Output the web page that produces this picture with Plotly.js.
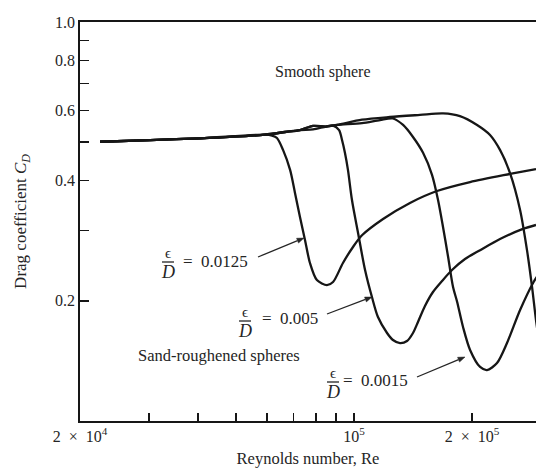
<!DOCTYPE html>
<html>
<head>
<meta charset="utf-8">
<script src="https://cdn.plot.ly/plotly-3.0.1.min.js"></script>
<style>html,body{margin:0;padding:0;background:#fff;}#chart{width:536px;height:468px;}</style>
</head>
<body>
<div id="chart"></div>
<script>
// ---- data (Re, C_D) ----
// eps/D = 0.0125
const reA = [2.25e4, 3.02e4, 4.05e4, 5.93e4, 6.18e4, 6.36e4, 6.59e4, 6.87e4, 7.07e4, 7.28e4, 7.50e4, 7.72e4, 8.04e4, 8.53e4, 8.84e4, 9.37e4, 9.94e4, 1.048e5, 1.186e5, 1.389e5, 1.628e5, 1.977e5, 2.5e5, 2.912e5];
const cdA = [0.501, 0.506, 0.511, 0.522, 0.519, 0.512, 0.478, 0.426, 0.373, 0.3246, 0.284, 0.2489, 0.2256, 0.219, 0.223, 0.2489, 0.273, 0.292, 0.3208, 0.352, 0.377, 0.397, 0.416, 0.428];
// eps/D = 0.005
const reB = [2.25e4, 3.02e4, 4.05e4, 5.93e4, 6.67e4, 7.28e4, 7.86e4, 8.48e4, 8.84e4, 9.16e4, 9.32e4, 9.48e4, 9.65e4, 9.88e4, 1.024e5, 1.067e5, 1.111e5, 1.151e5, 1.214e5, 1.257e5, 1.310e5, 1.365e5, 1.414e5, 1.456e5, 1.517e5, 1.590e5, 1.677e5, 1.778e5, 1.919e5, 2.097e5, 2.357e5, 2.698e5, 2.912e5];
const cdB = [0.501, 0.506, 0.511, 0.522, 0.530, 0.536, 0.538, 0.547, 0.550, 0.536, 0.506, 0.470, 0.426, 0.358, 0.296, 0.239, 0.2045, 0.1822, 0.1662, 0.1596, 0.1568, 0.1587, 0.1662, 0.1771, 0.1942, 0.2105, 0.2243, 0.239, 0.2547, 0.268, 0.2858, 0.303, 0.310];
// eps/D = 0.0015
const reC = [2.25e4, 3.02e4, 4.05e4, 5.93e4, 6.67e4, 7.28e4, 7.86e4, 8.48e4, 9.05e4, 1.048e5, 1.165e5, 1.257e5, 1.334e5, 1.414e5, 1.500e5, 1.581e5, 1.638e5, 1.687e5, 1.738e5, 1.789e5, 1.832e5, 1.897e5, 1.977e5, 2.097e5, 2.184e5, 2.316e5, 2.456e5, 2.652e5, 2.862e5, 2.982e5];
const cdC = [0.501, 0.506, 0.511, 0.522, 0.530, 0.536, 0.549, 0.547, 0.552, 0.558, 0.568, 0.573, 0.552, 0.515, 0.470, 0.414, 0.358, 0.306, 0.2576, 0.2167, 0.199, 0.172, 0.1507, 0.1366, 0.1342, 0.1397, 0.1568, 0.1897, 0.2218, 0.236];
// smooth sphere
const reS = [2.25e4, 3.02e4, 4.05e4, 5.93e4, 6.67e4, 7.28e4, 7.86e4, 8.48e4, 9.05e4, 1.048e5, 1.235e5, 1.473e5, 1.687e5, 1.863e5, 2.060e5, 2.223e5, 2.357e5, 2.5e5, 2.652e5, 2.762e5, 2.845e5, 2.912e5, 3.0e5];
const cdS = [0.501, 0.506, 0.511, 0.522, 0.530, 0.536, 0.549, 0.547, 0.552, 0.569, 0.578, 0.585, 0.590, 0.581, 0.552, 0.521, 0.478, 0.418, 0.338, 0.268, 0.2168, 0.179, 0.1463];

const NB = '\u00a0';
const xMajorVals = [2e4, 1e5, 2e5];
const xMajorText = ['2' + NB + NB + '×' + NB + NB + '10<sup>4</sup>', '10<sup>5</sup>', '2' + NB + NB + '×' + NB + NB + '10<sup>5</sup>'];
const xMinorVals = [3e4, 4e4, 5e4, 6e4, 7e4, 8e4, 9e4, 3e5];
const yMajorVals = [0.2, 0.4, 0.6, 0.8, 1.0];
const yMajorText = ['0.2', '0.4', '0.6', '0.8', '1.0'];
const yMinorVals = [0.3, 0.5, 0.7, 0.9];

const FONT = 'Liberation Serif, DejaVu Serif, Times New Roman, serif';
const INK = '#161616';
const TXT = '#252525';

function curve(x, y) {
  return {x: x, y: y, type: 'scatter', mode: 'lines', hoverinfo: 'skip',
    line: {color: INK, width: 2.3, shape: 'spline', smoothing: 0.8}, showlegend: false};
}
const traces = [curve(reS, cdS), curve(reC, cdC), curve(reB, cdB), curve(reA, cdA)];

// layout helpers (pixel -> paper) for annotation placement
const L = 80, T = 22, W = 456, H = 399;
const px = v => (v - L) / W;
const py = v => (T + H - v) / H;

function txt(text, x, y, xanchor, size) {
  return {text: text, x: px(x), y: py(y), xref: 'paper', yref: 'paper', showarrow: false,
    xanchor: xanchor || 'center', yanchor: 'middle', font: {family: FONT, size: size || 16, color: TXT}};
}
function frac(cx, barY) {
  return [txt('ϵ', cx, barY - 9, 'center', 15), txt('<i>D</i>', cx, barY + 10, 'center', 18)];
}
function bar(cx, barY) {
  return {type: 'line', xref: 'paper', yref: 'paper', x0: px(cx - 6), x1: px(cx + 6), y0: py(barY), y1: py(barY),
    line: {color: TXT, width: 1.3}};
}
function leader(tx, ty, hx, hy) {
  const dx = hx - tx, dy = hy - ty, len = Math.hypot(dx, dy);
  const ux = dx / len, uy = dy / len;
  const bx = hx - ux * 7, by = hy - uy * 7;
  const p1 = [bx - uy * 2.6, by + ux * 2.6], p2 = [bx + uy * 2.6, by - ux * 2.6];
  return [
    {type: 'line', xref: 'paper', yref: 'paper', x0: px(tx), y0: py(ty), x1: px(bx), y1: py(by),
      line: {color: TXT, width: 1.3}},
    {type: 'path', xref: 'paper', yref: 'paper',
      path: 'M' + px(hx) + ',' + py(hy) + ' L' + px(p1[0]) + ',' + py(p1[1]) + ' L' + px(p2[0]) + ',' + py(p2[1]) + ' Z',
      fillcolor: TXT, line: {color: TXT, width: 0.5}}
  ];
}

const annotations = [
  txt('Smooth sphere', 323, 72, 'center', 16),
  txt('Sand-roughened spheres', 219, 355, 'center', 16.5),
  ...frac(168, 262), txt('=' + NB + NB + '0.0125', 181, 261, 'left', 17),
  ...frac(245, 321), txt('=' + NB + NB + '0.005', 260, 318, 'left', 17),
  ...frac(333, 382), txt('=' + NB + NB + '0.0015', 341, 380, 'left', 17)
];
const shapes = [bar(168, 262), bar(245, 321), bar(333, 382),
  ...leader(258, 257, 304, 238),
  ...leader(327, 314, 372, 297),
  ...leader(417, 377, 465, 357)];

const minorY = {tickmode: 'array', tickvals: yMinorVals, ticks: 'inside', ticklen: 9, tickwidth: 1.3, tickcolor: INK, showgrid: false};
const minorX = {tickmode: 'array', tickvals: xMinorVals, ticks: 'inside', ticklen: 8, tickwidth: 1.3, tickcolor: INK, showgrid: false};

const layout = {
  width: 536, height: 468, autosize: false,
  margin: {l: L, r: 0, t: T, b: 468 - T - H, pad: 0},
  paper_bgcolor: '#ffffff', plot_bgcolor: '#ffffff',
  font: {family: FONT, color: TXT, size: 16},
  showlegend: false,
  xaxis: {
    type: 'log', range: [Math.log10(2e4), Math.log10(2.912e5)],
    tickmode: 'array', tickvals: xMajorVals, ticktext: xMajorText,
    ticks: 'inside', ticklen: 8, tickwidth: 1.3, tickcolor: INK,
    minor: minorX,
    showline: true, linecolor: INK, linewidth: 1.8, mirror: true,
    showgrid: false, zeroline: false,
    tickfont: {family: FONT, size: 16, color: TXT},
    title: {text: 'Reynolds number, Re', font: {family: FONT, size: 16.5, color: TXT}, standoff: 12}
  },
  yaxis: {
    type: 'log', range: [-1, 0],
    tickmode: 'array', tickvals: yMajorVals, ticktext: yMajorText,
    ticks: 'inside', ticklen: 9, tickwidth: 1.3, tickcolor: INK,
    minor: minorY,
    showline: true, linecolor: INK, linewidth: 1.8, mirror: false,
    showgrid: false, zeroline: false,
    tickfont: {family: FONT, size: 16, color: TXT},
    title: {text: 'Drag coefficient <i>C<sub>D</sub></i>', font: {family: FONT, size: 17, color: TXT}, standoff: 24}
  },
  annotations: annotations,
  shapes: shapes
};

Plotly.newPlot('chart', traces, layout, {displayModeBar: false, staticPlot: true});
</script>
</body>
</html>
